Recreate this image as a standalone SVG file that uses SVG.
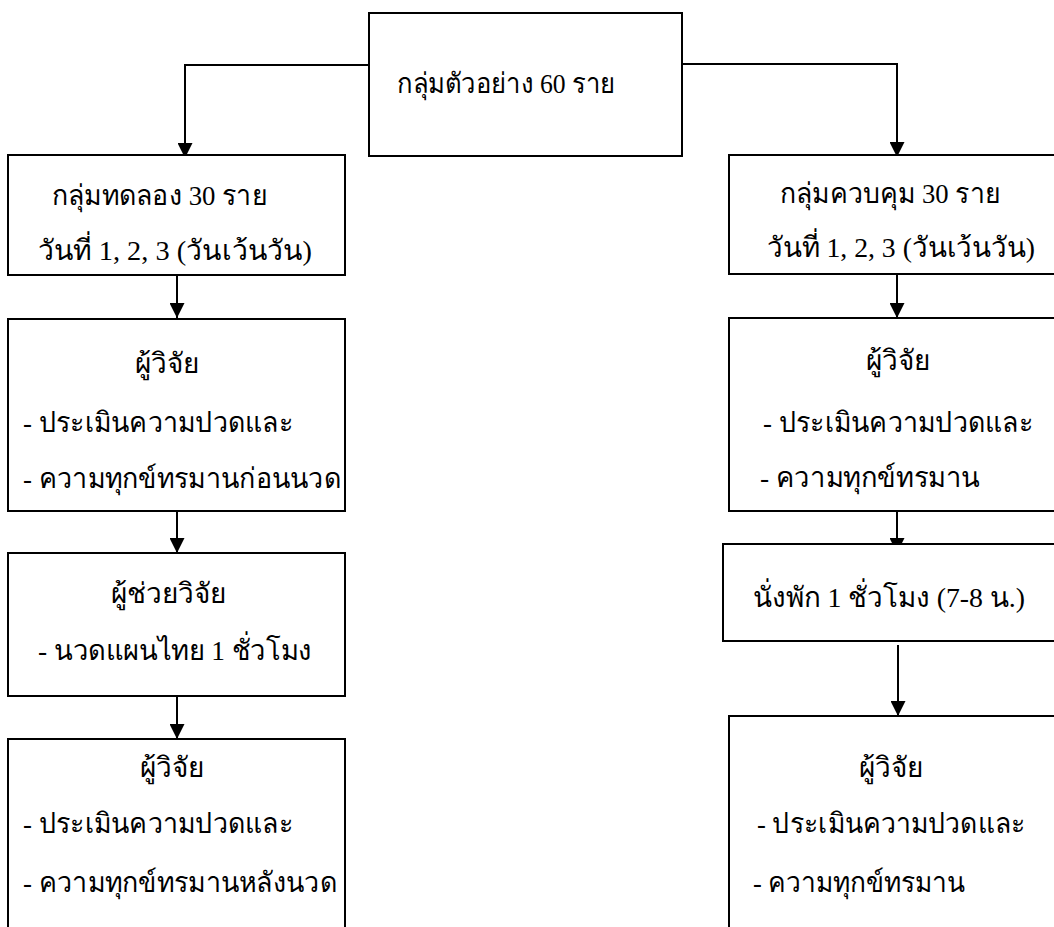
<svg xmlns="http://www.w3.org/2000/svg" width="1054" height="927" viewBox="0 0 1054 927">
<style>
.box{fill:#fff;stroke:#000;stroke-width:2}
.t{font-family:"Liberation Serif","Times New Roman",serif;font-size:28px;fill:#000}
.c{text-anchor:middle}
.ln{fill:none;stroke:#000;stroke-width:2}
</style>
<defs>
<marker id="ah" markerUnits="userSpaceOnUse" markerWidth="16" markerHeight="15" refX="15" refY="7.5" orient="auto">
<path d="M0,0 L15,7.5 L0,15 Z" fill="#000"/>
</marker>
</defs>
<rect width="1054" height="927" fill="#fff"/>
<g id="connectors">
<path class="ln" d="M377,65 H185 V158" marker-end="url(#ah)"/>
<path class="ln" d="M682,64 H897 V157" marker-end="url(#ah)"/>
<path class="ln" d="M177,272 V318" marker-end="url(#ah)"/>
<path class="ln" d="M177,507 V553" marker-end="url(#ah)"/>
<path class="ln" d="M177,692 V739" marker-end="url(#ah)"/>
<path class="ln" d="M897,272 V318" marker-end="url(#ah)"/>
<path class="ln" d="M897,505 V553" marker-end="url(#ah)"/>
<path class="ln" d="M898,645 V716" marker-end="url(#ah)"/>
</g>
<g id="n-top">
<rect class="box" x="369" y="13" width="313" height="143"/>
<text class="t" x="397" y="93" textLength="218" lengthAdjust="spacingAndGlyphs">กลุ่มตัวอย่าง 60 ราย</text>
</g>
<g id="n-exp">
<rect class="box" x="8" y="155" width="337" height="120"/>
<text class="t" x="52" y="205" textLength="215" lengthAdjust="spacingAndGlyphs">กลุ่มทดลอง 30 ราย</text>
<text class="t" x="38" y="260" textLength="274" lengthAdjust="spacingAndGlyphs">วันที่ 1, 2, 3 (วันเว้นวัน)</text>
</g>
<g id="n-ctl">
<rect class="box" x="729" y="155" width="340" height="119"/>
<text class="t" x="780" y="203" textLength="220" lengthAdjust="spacingAndGlyphs">กลุ่มควบคุม 30 ราย</text>
<text class="t" x="767" y="257" textLength="268" lengthAdjust="spacingAndGlyphs">วันที่ 1, 2, 3 (วันเว้นวัน)</text>
</g>
<g id="n-exp-pre">
<rect class="box" x="8" y="319" width="337" height="192"/>
<text class="t c" x="167" y="373">ผู้วิจัย</text>
<text class="t" x="23" y="432" textLength="270" lengthAdjust="spacingAndGlyphs">- ประเมินความปวดและ</text>
<text class="t" x="23" y="488" textLength="318" lengthAdjust="spacingAndGlyphs">- ความทุกข์ทรมานก่อนนวด</text>
</g>
<g id="n-ctl-pre">
<rect class="box" x="729" y="318" width="340" height="193"/>
<text class="t c" x="898" y="370">ผู้วิจัย</text>
<text class="t" x="763" y="432" textLength="270" lengthAdjust="spacingAndGlyphs">- ประเมินความปวดและ</text>
<text class="t" x="760" y="487" textLength="220" lengthAdjust="spacingAndGlyphs">-  ความทุกข์ทรมาน</text>
</g>
<g id="n-exp-massage">
<rect class="box" x="8" y="553" width="337" height="143"/>
<text class="t c" x="168" y="603">ผู้ช่วยวิจัย</text>
<text class="t" x="38" y="660" textLength="274" lengthAdjust="spacingAndGlyphs">- นวดแผนไทย 1 ชั่วโมง</text>
</g>
<g id="n-ctl-rest">
<rect class="box" x="723" y="544" width="346" height="97"/>
<text class="t" x="753" y="607" textLength="272" lengthAdjust="spacingAndGlyphs">นั่งพัก 1 ชั่วโมง (7-8 น.)</text>
</g>
<g id="n-exp-post">
<rect class="box" x="8" y="739" width="337" height="200"/>
<text class="t c" x="172" y="777">ผู้วิจัย</text>
<text class="t" x="23" y="833" textLength="270" lengthAdjust="spacingAndGlyphs">- ประเมินความปวดและ</text>
<text class="t" x="23" y="892" textLength="314" lengthAdjust="spacingAndGlyphs">- ความทุกข์ทรมานหลังนวด</text>
</g>
<g id="n-ctl-post">
<rect class="box" x="729" y="716" width="340" height="220"/>
<text class="t c" x="891" y="777">ผู้วิจัย</text>
<text class="t" x="757" y="833" textLength="268" lengthAdjust="spacingAndGlyphs">- ประเมินความปวดและ</text>
<text class="t" x="753" y="892" textLength="212" lengthAdjust="spacingAndGlyphs">- ความทุกข์ทรมาน</text>
</g>
</svg>
